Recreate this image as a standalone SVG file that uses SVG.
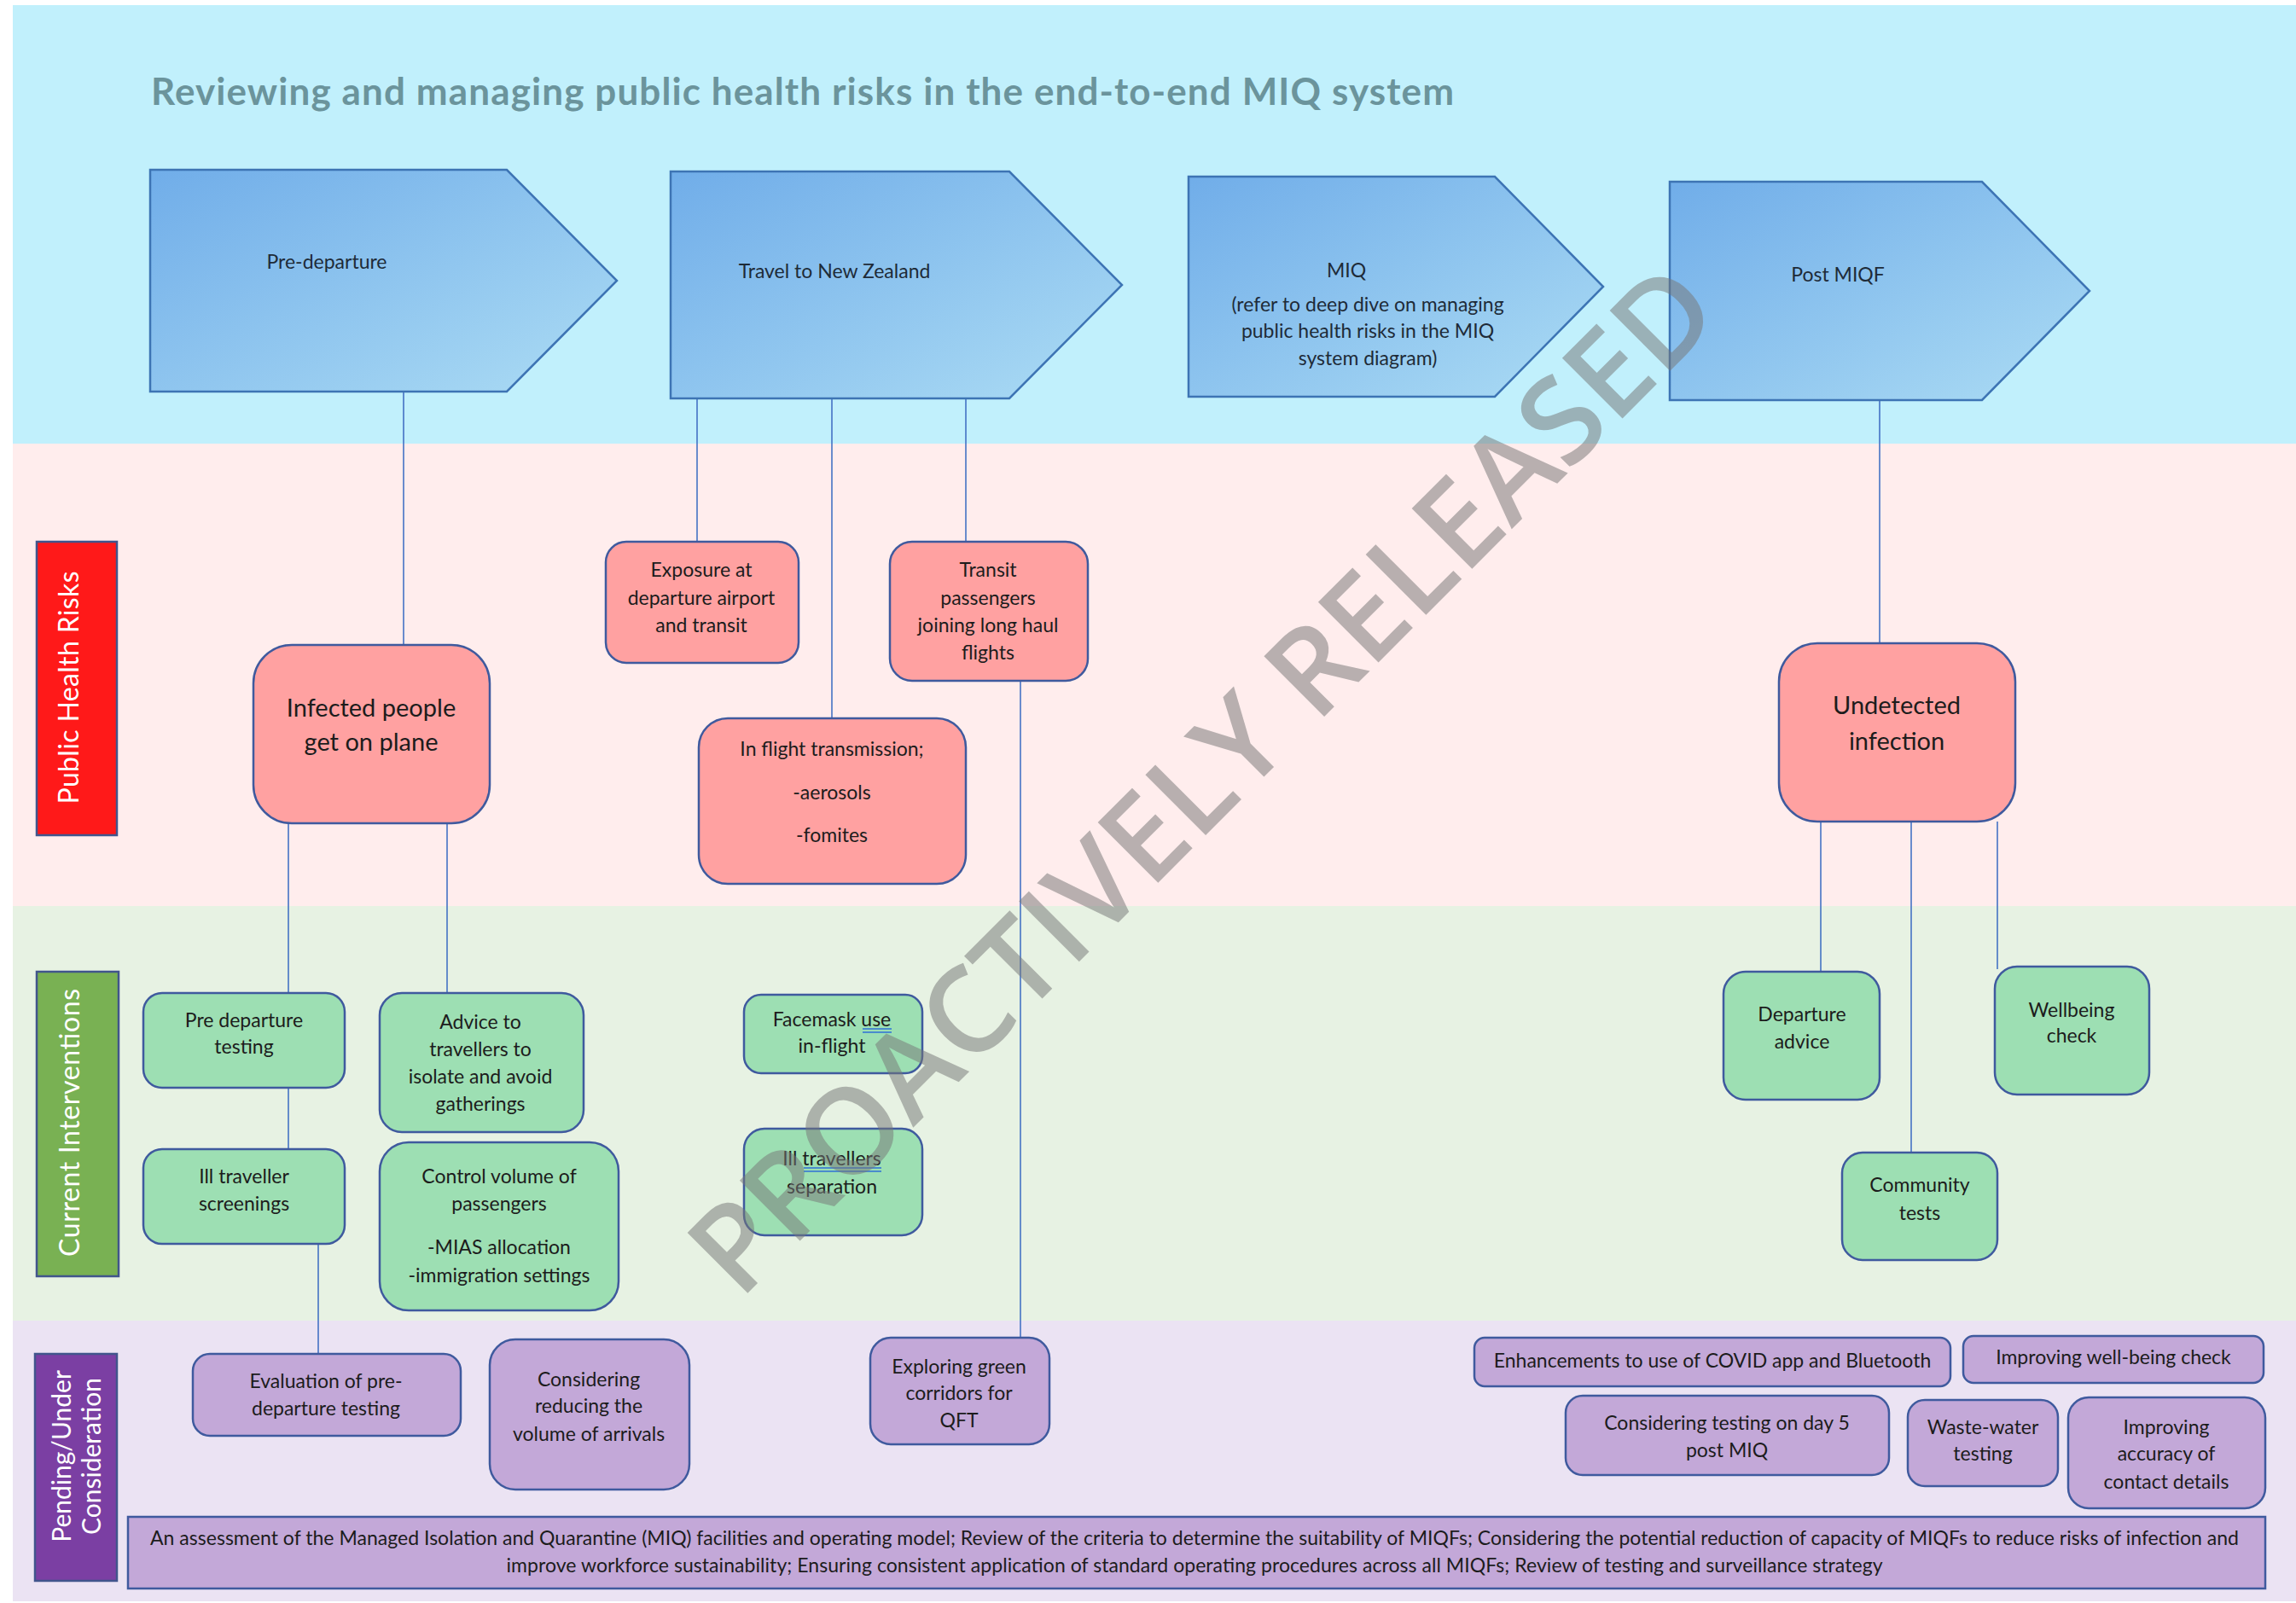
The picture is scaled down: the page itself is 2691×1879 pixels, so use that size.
<svg xmlns="http://www.w3.org/2000/svg" width="2691" height="1879" viewBox="0 0 2691 1879">
<defs>
<linearGradient id="pg" x1="0" y1="0" x2="1" y2="1">
<stop offset="0" stop-color="#70ade9"/>
<stop offset="1" stop-color="#acdcf4"/>
</linearGradient>
<style>
text{font-family:Lato,"Liberation Sans",sans-serif;fill:#1c1c1c;font-size:23px;text-anchor:middle}
.pent{fill:url(#pg);stroke:#3d74b4;stroke-width:2.5}
.pt{fill:#1e2b38}
.red{fill:#ffa1a1;stroke:#3f5a9e;stroke-width:2.5}
.grn{fill:#9ddfb3;stroke:#3f5a9e;stroke-width:2.5}
.pur{fill:#c3a8d8;stroke:#3f5a9e;stroke-width:2.5}
.big{font-size:29px}
.conn line{stroke:#4472c4;stroke-width:1.6}
.lbl{stroke:#41558c;stroke-width:2.5}
.lt{fill:#ffffff;font-size:32px}
.ul{stroke:#2f6fd6;stroke-width:1.6}
</style>
</defs>
<rect x="0" y="0" width="2691" height="1879" fill="#ffffff"/>
<g id="bands">
<rect x="15" y="6" width="2676" height="514" fill="#c1f0fc"/>
<rect x="15" y="520" width="2676" height="542" fill="#ffeded"/>
<rect x="15" y="1062" width="2676" height="486" fill="#e7f2e3"/>
<rect x="15" y="1548" width="2676" height="329" fill="#ebe3f3"/>
</g>
<text id="title" x="177" y="123" textLength="1527" lengthAdjust="spacing" style="text-anchor:start;font-size:44px;font-weight:bold;fill:#6b949c">Reviewing and managing public health risks in the end-to-end MIQ system</text>

<g id="connectors" class="conn">
<line x1="473" y1="459" x2="473" y2="756"/>
<line x1="817" y1="467" x2="817" y2="635"/>
<line x1="975" y1="467" x2="975" y2="842"/>
<line x1="1132" y1="467" x2="1132" y2="635"/>
<line x1="2203" y1="469" x2="2203" y2="754"/>
<line x1="338" y1="965" x2="338" y2="1164"/>
<line x1="524" y1="965" x2="524" y2="1164"/>
<line x1="338" y1="1275" x2="338" y2="1347"/>
<line x1="373" y1="1458" x2="373" y2="1587"/>
<line x1="1196" y1="798" x2="1196" y2="1568"/>
<line x1="2134" y1="963" x2="2134" y2="1139"/>
<line x1="2240" y1="963" x2="2240" y2="1351"/>
<line x1="2341" y1="963" x2="2341" y2="1136"/>
</g>

<g id="pre-departure">
<polygon class="pent" points="176,199 594,199 723,329 594,459 176,459"/>
<text class="pt" x="383" y="315">Pre-departure</text>
</g>
<g id="travel">
<polygon class="pent" points="786,201 1183,201 1315,334 1183,467 786,467"/>
<text class="pt" x="978" y="326">Travel to New Zealand</text>
</g>
<g id="miq">
<polygon class="pent" points="1393,207 1752,207 1879,336 1752,465 1393,465"/>
<text class="pt" x="1578" y="325">MIQ</text>
<text class="pt" x="1603" y="365">(refer to deep dive on managing</text>
<text class="pt" x="1603" y="396">public health risks in the MIQ</text>
<text class="pt" x="1603" y="428">system diagram)</text>
</g>
<g id="post-miqf">
<polygon class="pent" points="1957,213 2323,213 2449,341 2323,469 1957,469"/>
<text class="pt" x="2154" y="330">Post MIQF</text>
</g>

<g id="label-risks">
<rect class="lbl" x="43" y="635" width="94" height="344" fill="#ff1919"/>
<text class="lt" transform="translate(92,806) rotate(-90)" textLength="273" lengthAdjust="spacing">Public Health Risks</text>
</g>
<g id="label-interventions">
<rect class="lbl" x="43" y="1139" width="96" height="357" fill="#79b153"/>
<text class="lt" transform="translate(93,1316) rotate(-90)" textLength="314" lengthAdjust="spacing">Current Interventions</text>
</g>
<g id="label-pending">
<rect class="lbl" x="41" y="1587" width="96" height="266" fill="#7b3fa3"/>
<text class="lt" style="font-size:30px" transform="translate(83,1707) rotate(-90)">Pending/Under</text>
<text class="lt" style="font-size:30px" transform="translate(118,1707) rotate(-90)">Consideration</text>
</g>

<g id="infected">
<rect class="red" x="297" y="756" width="277" height="209" rx="45"/>
<text class="big" x="435" y="840">Infected people</text>
<text class="big" x="435" y="880">get on plane</text>
</g>
<g id="exposure">
<rect class="red" x="710" y="635" width="226" height="142" rx="24"/>
<text x="822" y="676">Exposure at</text>
<text x="822" y="709">departure airport</text>
<text x="822" y="741">and transit</text>
</g>
<g id="transit">
<rect class="red" x="1043" y="635" width="232" height="163" rx="26"/>
<text x="1158" y="676">Transit</text>
<text x="1158" y="709">passengers</text>
<text x="1158" y="741">joining long haul</text>
<text x="1158" y="773">flights</text>
</g>
<g id="inflight">
<rect class="red" x="819" y="842" width="313" height="194" rx="34"/>
<text x="975" y="886">In flight transmission;</text>
<text x="975" y="937">-aerosols</text>
<text x="975" y="987">-fomites</text>
</g>
<g id="undetected">
<rect class="red" x="2085" y="754" width="277" height="209" rx="45"/>
<text class="big" x="2223" y="837">Undetected</text>
<text class="big" x="2223" y="879">infection</text>
</g>

<g id="pre-departure-testing">
<rect class="grn" x="168" y="1164" width="236" height="111" rx="22"/>
<text x="286" y="1204">Pre departure</text>
<text x="286" y="1235">testing</text>
</g>
<g id="advice">
<rect class="grn" x="445" y="1164" width="239" height="163" rx="26"/>
<text x="563" y="1206">Advice to</text>
<text x="563" y="1238">travellers to</text>
<text x="563" y="1270">isolate and avoid</text>
<text x="563" y="1302">gatherings</text>
</g>
<g id="ill-traveller">
<rect class="grn" x="168" y="1347" width="236" height="111" rx="22"/>
<text x="286" y="1387">Ill traveller</text>
<text x="286" y="1419">screenings</text>
</g>
<g id="control-volume">
<rect class="grn" x="445" y="1339" width="280" height="197" rx="34"/>
<text x="585" y="1387">Control volume of</text>
<text x="585" y="1419">passengers</text>
<text x="585" y="1470">-MIAS allocation</text>
<text x="585" y="1503">-immigration settings</text>
</g>
<g id="facemask">
<rect class="grn" x="872" y="1166" width="209" height="92" rx="20"/>
<text x="975" y="1203">Facemask use</text>
<text x="975" y="1234">in-flight</text>
<line class="ul" x1="1011" y1="1206" x2="1045" y2="1206"/>
<line class="ul" x1="1011" y1="1210" x2="1045" y2="1210"/>
</g>
<g id="ill-separation">
<rect class="grn" x="872" y="1323" width="209" height="125" rx="24"/>
<text x="975" y="1366">Ill travellers</text>
<text x="975" y="1399">separation</text>
<line class="ul" x1="942" y1="1369" x2="1033" y2="1369"/>
<line class="ul" x1="942" y1="1373" x2="1033" y2="1373"/>
</g>
<g id="departure-advice">
<rect class="grn" x="2020" y="1139" width="183" height="150" rx="26"/>
<text x="2112" y="1197">Departure</text>
<text x="2112" y="1229">advice</text>
</g>
<g id="wellbeing">
<rect class="grn" x="2338" y="1133" width="181" height="150" rx="26"/>
<text x="2428" y="1192">Wellbeing</text>
<text x="2428" y="1222">check</text>
</g>
<g id="community">
<rect class="grn" x="2159" y="1351" width="182" height="126" rx="24"/>
<text x="2250" y="1397">Community</text>
<text x="2250" y="1430">tests</text>
</g>

<g id="evaluation">
<rect class="pur" x="226" y="1587" width="314" height="96" rx="20"/>
<text x="382" y="1627">Evaluation of pre-</text>
<text x="382" y="1659">departure testing</text>
</g>
<g id="reducing-volume">
<rect class="pur" x="574" y="1570" width="234" height="176" rx="30"/>
<text x="690" y="1625">Considering</text>
<text x="690" y="1656">reducing the</text>
<text x="690" y="1689">volume of arrivals</text>
</g>
<g id="green-corridors">
<rect class="pur" x="1020" y="1568" width="210" height="125" rx="24"/>
<text x="1124" y="1610">Exploring green</text>
<text x="1124" y="1641">corridors for</text>
<text x="1124" y="1673">QFT</text>
</g>
<g id="covid-app">
<rect class="pur" x="1728" y="1568" width="558" height="57" rx="12"/>
<text x="2007" y="1603">Enhancements to use of COVID app and Bluetooth</text>
</g>
<g id="wellbeing-improve">
<rect class="pur" x="2301" y="1566" width="352" height="55" rx="12"/>
<text x="2477" y="1599">Improving well-being check</text>
</g>
<g id="day5">
<rect class="pur" x="1835" y="1636" width="379" height="93" rx="20"/>
<text x="2024" y="1676">Considering testing on day 5</text>
<text x="2024" y="1708">post MIQ</text>
</g>
<g id="wastewater">
<rect class="pur" x="2236" y="1641" width="176" height="101" rx="20"/>
<text x="2324" y="1681">Waste-water</text>
<text x="2324" y="1712">testing</text>
</g>
<g id="contact-details">
<rect class="pur" x="2424" y="1638" width="231" height="130" rx="24"/>
<text x="2539" y="1681">Improving</text>
<text x="2539" y="1712">accuracy of</text>
<text x="2539" y="1745">contact details</text>
</g>
<g id="assessment">
<rect class="pur" x="150" y="1778" width="2505" height="84"/>
<text x="1400" y="1811" textLength="2448" lengthAdjust="spacing">An assessment of the Managed Isolation and Quarantine (MIQ) facilities and operating model; Review of the criteria to determine the suitability of MIQFs; Considering the potential reduction of capacity of MIQFs to reduce risks of infection and</text>
<text x="1400" y="1843" textLength="1613" lengthAdjust="spacing">improve workforce sustainability; Ensuring consistent application of standard operating procedures across all MIQFs; Review of testing and surveillance strategy</text>
</g>

<text id="watermark" transform="translate(1444,948) rotate(-45)" textLength="1632" lengthAdjust="spacingAndGlyphs" style="font-family:'Open Sans','DejaVu Sans',sans-serif;font-weight:600;font-size:140px;fill:#777777;fill-opacity:0.52">PROACTIVELY RELEASED</text>
</svg>
